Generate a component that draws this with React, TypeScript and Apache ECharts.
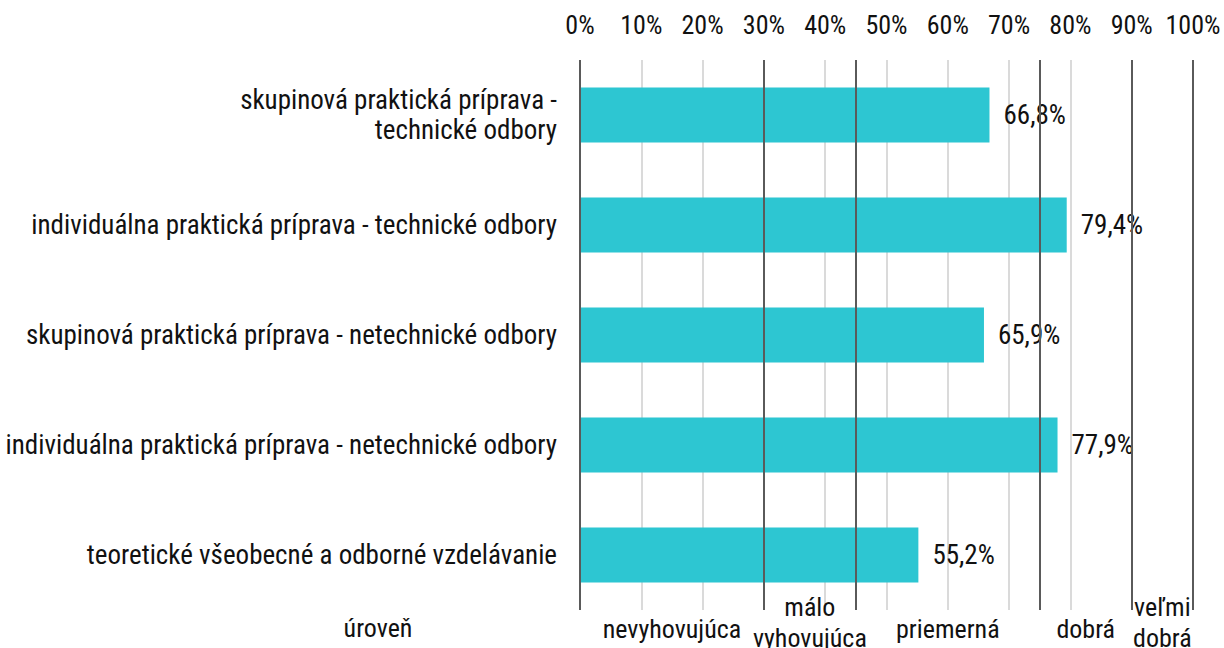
import React, { useEffect, useRef } from "react";
import * as echarts from "echarts";

const categories = [
  "skupinová praktická príprava -\ntechnické odbory",
  "individuálna praktická príprava - technické odbory",
  "skupinová praktická príprava - netechnické odbory",
  "individuálna praktická príprava - netechnické odbory",
  "teoretické všeobecné a odborné vzdelávanie",
];
const values = [66.8, 79.4, 65.9, 77.9, 55.2];
const levelBounds = [0, 30, 45, 75, 90, 100];
const levelNames = ["nevyhovujúca", "málo\nvyhovujúca", "priemerná", "dobrá", "veľmi\ndobrá"];
const levelTitle = "úroveň";

const FONT = "'Roboto Condensed', 'Liberation Sans Narrow', 'DejaVu Sans Condensed', Roboto, sans-serif";
const TXT = "#111111";

export default function App() {
  const ref = useRef<HTMLDivElement>(null);
  useEffect(() => {
    document.body.style.margin = "0";
    const chart = echarts.init(ref.current!, undefined, { renderer: "svg" });
    const mids: Record<string, string> = {};
    for (let i = 0; i < levelNames.length; i++) {
      mids[String((levelBounds[i] + levelBounds[i + 1]) / 2)] = levelNames[i];
    }
    chart.setOption({
      animation: false,
      textStyle: { fontFamily: FONT },
      grid: {
        left: 580,
        right: 31,
        top: 60,
        bottom: 38,
        containLabel: false,
        outerBoundsMode: "none",
      },
      xAxis: [
        {
          type: "value",
          position: "top",
          min: 0,
          max: 100,
          interval: 10,
          axisLine: { show: false },
          axisTick: { show: false },
          splitLine: { show: true, lineStyle: { color: "#dadada", width: 2 } },
          axisLabel: {
            formatter: (v: number) => `${v}%`,
            fontFamily: FONT,
            fontSize: 26,
            color: TXT,
            margin: 35,
            verticalAlign: "middle",
          },
        },
        {
          type: "value",
          position: "bottom",
          min: 0,
          max: 100,
          interval: 2.5,
          axisLine: { show: false },
          axisTick: { show: false },
          splitLine: { show: false },
          axisLabel: {
            formatter: (v: number) => {
              const t = mids[String(v)];
              if (!t) return "";
              return t.includes("\n") ? t : `{s|${t}}`;
            },
            fontFamily: FONT,
            fontSize: 26,
            color: TXT,
            margin: 12,
            lineHeight: 31,
            verticalAlign: "middle",
            rich: {
              s: {
                fontFamily: FONT,
                fontSize: 26,
                color: TXT,
                lineHeight: 31,
                padding: [14, 0, 0, 0],
              },
            },
          },
        },
      ],
      yAxis: {
        type: "category",
        data: categories,
        inverse: true,
        axisLine: { show: false },
        axisTick: { show: false },
        splitLine: { show: false },
        axisLabel: {
          fontFamily: FONT,
          fontSize: 27,
          color: TXT,
          margin: 23,
          lineHeight: 30,
          align: "right",
        },
      },
      series: [
        {
          type: "bar",
          data: values,
          xAxisIndex: 0,
          barWidth: "50%",
          itemStyle: { color: "#2dc6d2" },
          label: {
            show: true,
            position: "right",
            distance: 14,
            fontFamily: FONT,
            fontSize: 27,
            color: TXT,
            formatter: (p: any) => `${p.value.toFixed(1).replace(".", ",")}%`,
          },
          markLine: {
            silent: true,
            symbol: ["none", "none"],
            label: { show: false },
            lineStyle: { color: "#5a5a5a", width: 2, type: "solid" },
            data: levelBounds.map((b) => ({ xAxis: b })),
          },
        },
      ],
      graphic: [
        {
          type: "text",
          x: 378,
          y: 628,
          style: {
            text: levelTitle,
            font: `26px ${FONT}`,
            fill: TXT,
            textAlign: "center",
            textVerticalAlign: "middle",
          },
        },
      ],
    });
    return () => chart.dispose();
  }, []);
  return <div ref={ref} style={{ width: 1224, height: 648 }} />;
}
